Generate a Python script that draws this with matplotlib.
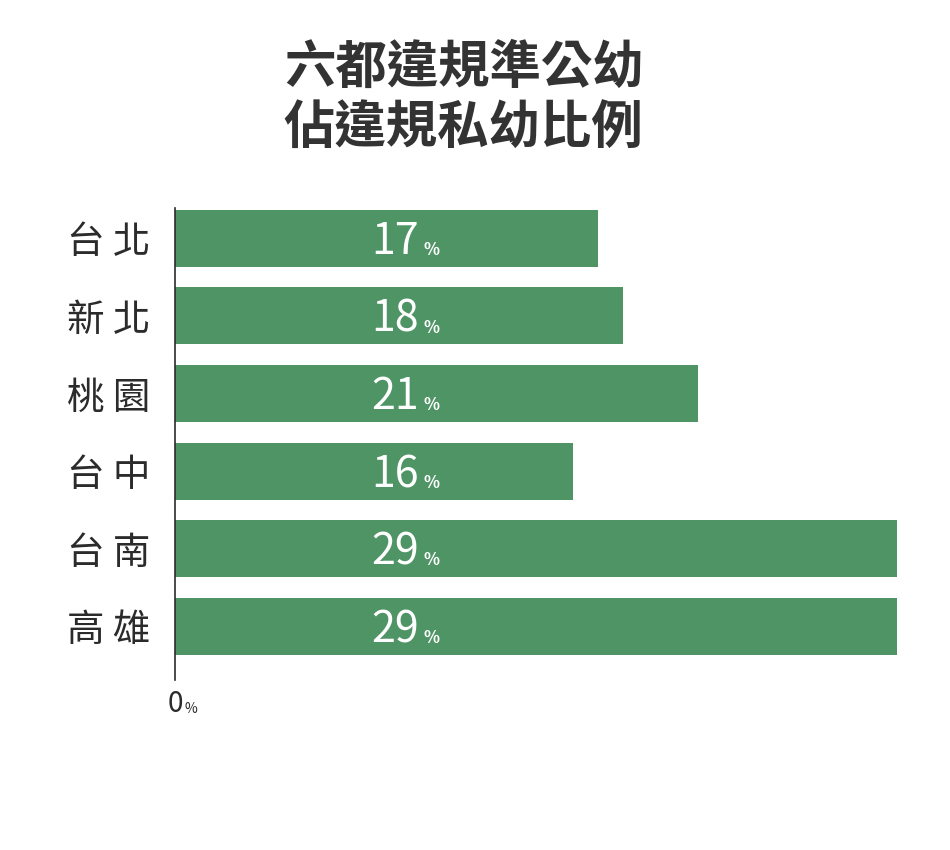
import numpy as np
import matplotlib.pyplot as plt

plt.rcParams['font.family'] = ['Noto Sans CJK TC', 'DejaVu Sans']

title = "六都違規準公幼\n佔違規私幼比例"
cities = ["台 北", "新 北", "桃 園", "台 中", "台 南", "高 雄"]
values = [17, 18, 21, 16, 29, 29]

green = "#4e9464"
dark = "#2b2b2b"


def main():
    fig = plt.figure(figsize=(9.5, 8.5), dpi=100)
    ax = fig.add_axes([175 / 950, 1 - 680 / 850, 722 / 950, 472 / 850])

    y = np.arange(len(cities))
    ax.barh(y, values, height=0.735, color=green)
    ax.set_xlim(0, 29)
    ax.set_ylim(5.69, -0.39)

    for s in ["top", "right", "bottom"]:
        ax.spines[s].set_visible(False)
    ax.spines["left"].set_color(dark)
    ax.spines["left"].set_linewidth(1.2)

    ax.set_yticks(y)
    ax.set_yticklabels(cities, fontsize=27, color=dark)
    ax.tick_params(axis="y", length=0, pad=18)
    ax.set_xticks([])

    for yi, v in zip(y, values):
        t = ax.text(7.9, yi + 0.05, str(v), color="white", fontsize=31,
                    ha="left", va="center")
        ax.annotate("%", xy=(1, 0.12), xycoords=t, xytext=(3, 0),
                    textcoords="offset points", color="white",
                    fontsize=12, fontweight="bold", ha="left", va="bottom")

    z = ax.text(0, -0.02, "0", transform=ax.get_xaxis_transform(),
                fontsize=20, color=dark, ha="center", va="top")
    ax.annotate("%", xy=(1, 0.12), xycoords=z, xytext=(1, 0),
                textcoords="offset points", color=dark, fontsize=10,
                ha="left", va="bottom")

    fig.text(0.488, 1 - 98 / 850, title, ha="center", va="center",
             fontsize=37, fontweight="bold", color="#333333", linespacing=1.2)

    fig.savefig("out.png", dpi=100, facecolor="white")


if __name__ == "__main__":
    main()
